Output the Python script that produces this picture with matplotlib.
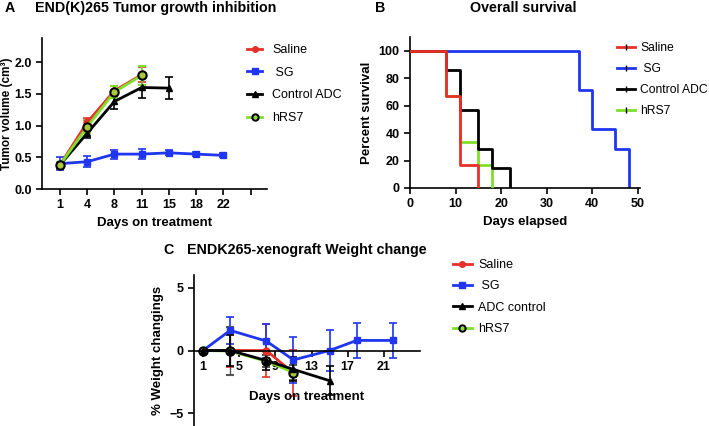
import matplotlib
matplotlib.use('Agg')
from matplotlib import pyplot as plt
import numpy as np

plt.rcParams['font.family'] = ['Liberation Sans', 'DejaVu Sans']
plt.rcParams['axes.linewidth'] = 1.2

RED = '#e8302a'
BLUE = '#1f35f0'
BLACK = 'black'
GREEN = '#7fe02a'

# ---- panel A: tumour volume ----
a_days = ['1', '4', '8', '11', '15', '18', '22', '']
a_saline = [0.38, 1.05, 1.55, 1.80]
a_saline_err = [0.05, 0.07, 0.08, 0.12]
a_sg = [0.40, 0.43, 0.55, 0.55, 0.57, 0.55, 0.53]
a_sg_err = [0.10, 0.09, 0.07, 0.08, 0.04, 0.03, 0.03]
a_adc = [0.38, 0.88, 1.38, 1.60, 1.59]
a_adc_err = [0.05, 0.07, 0.12, 0.16, 0.17]
a_hrs7 = [0.38, 0.98, 1.53, 1.79]
a_hrs7_err = [0.04, 0.10, 0.10, 0.15]

# ---- panel B: survival ----
b_saline_t = [0, 8, 11, 15]
b_saline_s = [100, 66.7, 16.7, 0]
b_sg_t = [0, 37, 40, 45, 48]
b_sg_s = [100, 71.4, 42.9, 28.6, 0]
b_adc_t = [0, 8, 11, 15, 18, 22]
b_adc_s = [100, 85.7, 57.1, 28.6, 14.3, 0]
b_hrs7_t = [0, 8, 11, 15, 18]
b_hrs7_s = [100, 66.7, 33.3, 16.7, 0]

# ---- panel C: weight change ----
c_saline_d = [1, 4, 8, 11]
c_saline = [0, 0, 0, -1.8]
c_saline_err = [0, 1.3, 2.1, 1.85]
c_sg_d = [1, 4, 8, 11, 15, 18, 22]
c_sg = [0, 1.6, 0.75, -0.75, 0, 0.8, 0.8]
c_sg_err = [0, 1.05, 1.35, 1.8, 1.65, 1.4, 1.4]
c_adc_d = [1, 4, 8, 11, 15]
c_adc = [0, 0, -0.8, -1.5, -2.4]
c_adc_err = [0, 1.2, 0.75, 0.95, 1.15]
c_hrs7_d = [1, 4, 8, 11]
c_hrs7 = [0, -0.05, -0.85, -1.75]
c_hrs7_err = [0, 1.9, 0.5, 0.6]

W, H = 709, 426
fig = plt.figure(figsize=(W / 100, H / 100), dpi=100)


def px_axes(x0, y0, x1, y1):
    # pixel box (top-left origin) -> figure axes
    return fig.add_axes([x0 / W, 1 - y1 / H, (x1 - x0) / W, (y1 - y0) / H])


def style(ax):
    ax.spines['top'].set_visible(False)
    ax.spines['right'].set_visible(False)
    ax.tick_params(width=1.2, length=4, labelsize=9)
    for lab in ax.get_xticklabels() + ax.get_yticklabels():
        lab.set_fontweight('bold')


def legend(handles, labels, x, y, hl, htp, ls, fs=9):
    fig.legend(handles, labels, loc='upper left', bbox_to_anchor=(x / W, 1 - y / H),
               frameon=False, fontsize=fs, borderpad=0, borderaxespad=0,
               handlelength=hl, handletextpad=htp, labelspacing=ls)


eb = dict(capsize=3, elinewidth=1.2, capthick=1.2, lw=2, ms=5)
green_mk = dict(marker='o', mfc='#a8c83a', mec='black', mew=1.5, ms=6)

# ======== A ========
ax = px_axes(42, 38, 267, 189)
x = np.arange(len(a_days))
ax.errorbar(x[:len(a_sg)], a_sg, yerr=a_sg_err, color=BLUE, marker='s', **eb)
ax.errorbar(x[:len(a_saline)], a_saline, yerr=a_saline_err, color=RED, marker='o', **eb)
ax.errorbar(x[:len(a_adc)], a_adc, yerr=a_adc_err, color=BLACK, marker='^', **eb)
ax.errorbar(x[:len(a_hrs7)], a_hrs7, yerr=a_hrs7_err, color=GREEN, capsize=3,
            elinewidth=1.2, capthick=1.2, lw=2, **green_mk)
ax.set_xlim(-0.66, 7.6)
ax.set_ylim(0, 2.38)
ax.set_xticks(x)
ax.set_xticklabels(a_days)
ax.set_yticks([0, 0.5, 1.0, 1.5, 2.0])
ax.set_yticklabels(['0.0', '0.5', '1.0', '1.5', '2.0'])
ax.set_ylabel('Tumor volume (cm³)', fontsize=8.5, fontweight='bold')
ax.yaxis.set_label_coords(-29 / 225, 0.5)
ax.set_xlabel('Days on treatment', fontsize=9.5, fontweight='bold', labelpad=4)
style(ax)
handles = [plt.Line2D([], [], color=RED, lw=2, marker='o', ms=4),
           plt.Line2D([], [], color=BLUE, lw=2, marker='s', ms=4),
           plt.Line2D([], [], color=BLACK, lw=2, marker='^', ms=4),
           plt.Line2D([], [], color=GREEN, lw=2, marker='o', mfc='none', mec='black', mew=1.5, ms=4.5)]
legend(handles, ['Saline', ' SG', 'Control ADC', 'hRS7'], 247, 44, 1.2, 0.8, 0.85)
fig.text(5 / W, 1 - 8 / H, 'A', fontsize=10.3, fontweight='bold', va='center')
fig.text(156 / W, 1 - 8 / H, 'END(K)265 Tumor growth inhibition', fontsize=10.3,
         fontweight='bold', va='center', ha='center')

# ======== B ========
ax = px_axes(410, 37, 640, 188)
ax.step(b_sg_t, b_sg_s, where='post', color=BLUE, lw=2, zorder=2)
ax.step(b_hrs7_t, b_hrs7_s, where='post', color=GREEN, lw=2, zorder=3)
ax.step(b_adc_t, b_adc_s, where='post', color=BLACK, lw=2, zorder=4)
ax.step(b_saline_t, b_saline_s, where='post', color=RED, lw=2, zorder=5)
ax.set_xlim(0, 50.5)
ax.set_ylim(0, 110)
ax.set_xticks([0, 10, 20, 30, 40, 50])
ax.set_yticks([0, 20, 40, 60, 80, 100])
ax.set_ylabel('Percent survival', fontsize=9.5, fontweight='bold', labelpad=4)
ax.set_xlabel('Days elapsed', fontsize=9.5, fontweight='bold', labelpad=4)
style(ax)
handles = [plt.Line2D([], [], color=c, lw=2, marker='|', ms=4, mec='k')
           for c in (RED, BLUE, BLACK, GREEN)]
legend(handles, ['Saline', ' SG', 'Control ADC', 'hRS7'], 617, 42, 1.5, 0.4, 0.75, fs=8.7)
fig.text(375 / W, 1 - 8 / H, 'B', fontsize=10.3, fontweight='bold', va='center')
fig.text(523 / W, 1 - 8 / H, 'Overall survival', fontsize=10.3, fontweight='bold',
         va='center', ha='center')

# ======== C ========
ax = px_axes(194, 275, 420, 426)
ax.errorbar(c_saline_d, c_saline, yerr=c_saline_err, color=RED, marker='o', **eb)
ax.errorbar(c_sg_d, c_sg, yerr=c_sg_err, color=BLUE, marker='s', **eb)
ax.errorbar(c_hrs7_d, c_hrs7, yerr=c_hrs7_err, color=GREEN, ecolor='#555555', capsize=3,
            elinewidth=1, capthick=1, lw=2, **green_mk)
ax.errorbar(c_adc_d, c_adc, yerr=c_adc_err, color=BLACK, marker='^', **eb)
ax.set_xlim(0, 25)
ax.set_ylim(-6, 6)
ax.spines['bottom'].set_position(('data', 0))
ax.set_xticks([1, 5, 9, 13, 17, 21])
ax.set_yticks([-5, 0, 5])
ax.text(0.5, (426 - 397) / 151, 'Days on treatment', transform=ax.transAxes,
        fontsize=9.5, fontweight='bold', ha='center', va='center')
ax.set_ylabel('% Weight changings', fontsize=9.5, fontweight='bold', labelpad=4)
style(ax)
handles = [plt.Line2D([], [], color=RED, lw=2, marker='o', ms=4),
           plt.Line2D([], [], color=BLUE, lw=2, marker='s', ms=4),
           plt.Line2D([], [], color=BLACK, lw=2, marker='^', ms=4),
           plt.Line2D([], [], color=GREEN, lw=2, marker='o', mfc='none', mec='black', mew=1.5, ms=4.5)]
legend(handles, ['Saline', ' SG', 'ADC control', 'hRS7'], 453, 259, 1.5, 0.5, 0.75)
fig.text(163 / W, 1 - 250 / H, 'C', fontsize=10.3, fontweight='bold', va='center')
fig.text(307 / W, 1 - 250 / H, 'ENDK265-xenograft Weight change', fontsize=10.3,
         fontweight='bold', va='center', ha='center')

fig.savefig('out.png', dpi=100)
